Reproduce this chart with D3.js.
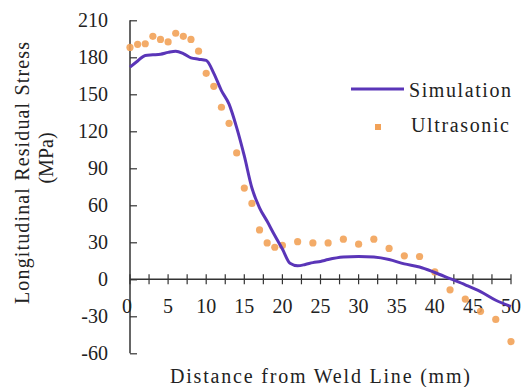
<!DOCTYPE html>
<html><head><meta charset="utf-8">
<script src="https://cdn.jsdelivr.net/npm/d3@7"></script>
<style>html,body{margin:0;padding:0;background:#fff;} svg{display:block;}</style>
</head><body>
<script>
// Data
const simX = [0,1,2,3,4,5,6,7,8,9,10,11,12,13,14,15,16,17,18,19,20,21,22,23,24,25,26,28,30,32,34,36,38,40,42,44,46,48,50];
const simY = [172,177,181.5,182,182.5,184,185,183,179.5,178.5,177.5,167,153,142,123,100,74,58,47,35.5,24.5,13,11,12,13.5,14.5,16,18,18.5,18,16,12.5,10,5.5,0.5,-4.5,-10,-17,-22];
const usX = [0,1,2,3,4,5,6,7,8,9,10,11,12,13,14,15,16,17,18,19,20,22,24,26,28,30,32,34,36,38,40,42,44,46,48,50];
const usY = [188,190.5,191,197,194.5,192.5,199.5,197,194.5,185,167,156.5,139.5,126.5,102.5,74,61.5,40,29.5,26,27.5,30.5,29.5,29.5,32.5,28.5,32.5,25,19,18.5,6,-8.5,-16,-26,-32.5,-50.5];
const yTicks = [210,180,150,120,90,60,30,0,-30,-60];
const xTicks = [0,5,10,15,20,25,30,35,40,45,50];
const xMinorTicks = d3.range(0, 50.01, 2.5);
const seriesNames = ["Simulation","Ultrasonic"];
const xTitle = "Distance from Weld Line (mm)";
const yTitle1 = "Longitudinal  Residual  Stress";
const yTitle2 = "(MPa)";

const W = 522, H = 387;
const x = d3.scaleLinear().domain([0,50]).range([130,511]);
const y = d3.scaleLinear().domain([-60,210]).range([353.3,20.3]);
const lineCol = "#5a35b8", dotCol = "#f2a258", axisCol = "#333";
const font = "'Liberation Serif','Times New Roman',serif";

const svg = d3.select("body").append("svg").attr("width",W).attr("height",H);
svg.append("rect").attr("width",W).attr("height",H).attr("fill","#fff");

// Y axis
const yAxis = d3.axisRight(y).tickValues(yTicks).tickSize(7).tickFormat("");
const gy = svg.append("g").attr("transform",`translate(${x(0)},0)`).call(yAxis);
gy.select(".domain").attr("stroke",axisCol).attr("stroke-width",1.5).attr("d",`M0,${y(210)}V${y(-60)}`);
gy.selectAll(".tick line").attr("stroke",axisCol).attr("stroke-width",1.2);
svg.append("g").selectAll("text").data(yTicks).join("text")
  .attr("x",108).attr("y",d=>y(d)+7).attr("text-anchor","end")
  .attr("font-family",font).attr("font-size",20).attr("fill","#222").text(d=>d);

// X axis at y=0
const gx = svg.append("g").attr("transform",`translate(0,${y(0)})`);
gx.append("line").attr("x1",x(0)).attr("x2",x(50)).attr("stroke",axisCol).attr("stroke-width",1.5);
gx.selectAll("line.t").data(xMinorTicks).join("line").attr("class","t")
  .attr("x1",d=>x(d)).attr("x2",d=>x(d)).attr("y1",-5).attr("y2",5)
  .attr("stroke",axisCol).attr("stroke-width",1.2);
svg.append("g").selectAll("text").data(xTicks).join("text")
  .attr("x",d=>x(d)-(d===0?3:0)).attr("y",313).attr("text-anchor","middle")
  .attr("font-family",font).attr("font-size",20).attr("fill","#222").text(d=>d);

// Ultrasonic dots
svg.append("g").selectAll("circle").data(usX.map((d,i)=>[d,usY[i]])).join("circle")
  .attr("cx",d=>x(d[0])).attr("cy",d=>y(d[1])).attr("r",3.6)
  .attr("fill",dotCol).attr("opacity",0.9);

// Simulation line
const line = d3.line().x(d=>x(d[0])).y(d=>y(d[1])).curve(d3.curveMonotoneX);
svg.append("path").datum(simX.map((d,i)=>[d,simY[i]]))
  .attr("d",line).attr("fill","none").attr("stroke",lineCol).attr("stroke-width",3)
  .attr("stroke-linejoin","round");

// Legend
svg.append("line").attr("x1",351).attr("x2",404).attr("y1",89).attr("y2",89)
  .attr("stroke",lineCol).attr("stroke-width",3);
svg.append("text").attr("x",409).attr("y",97).attr("font-family",font).attr("font-size",20)
  .attr("fill","#222").attr("textLength",102).attr("lengthAdjust","spacing").text(seriesNames[0]);
svg.append("rect").attr("x",375).attr("y",124).attr("width",6).attr("height",6).attr("fill",dotCol);
svg.append("text").attr("x",411).attr("y",132).attr("font-family",font).attr("font-size",20)
  .attr("fill","#222").attr("textLength",98).attr("lengthAdjust","spacing").text(seriesNames[1]);

// Titles
svg.append("text").attr("x",320).attr("y",383).attr("text-anchor","middle")
  .attr("font-family",font).attr("font-size",20).attr("fill","#222")
  .attr("textLength",300).attr("lengthAdjust","spacing").text(xTitle);
svg.append("text").attr("transform","translate(29,173) rotate(-90)").attr("text-anchor","middle")
  .attr("font-family",font).attr("font-size",20).attr("fill","#222")
  .attr("textLength",262).attr("lengthAdjust","spacing").text(yTitle1);
svg.append("text").attr("transform","translate(53,158) rotate(-90)").attr("text-anchor","middle")
  .attr("font-family",font).attr("font-size",20).attr("fill","#222").text(yTitle2);
</script>
</body></html>
